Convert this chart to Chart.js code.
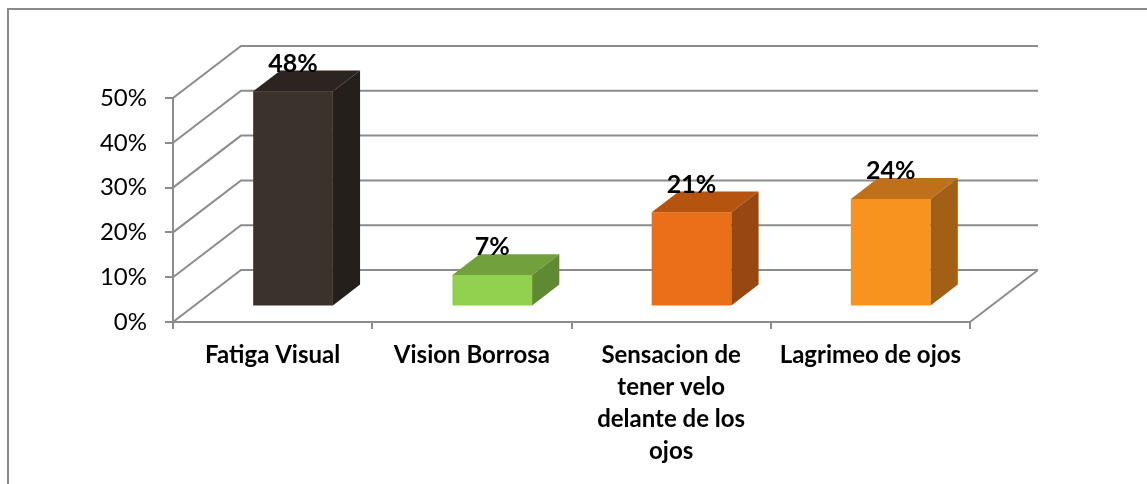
<!DOCTYPE html>
<html><head><meta charset="utf-8">
<script src="https://cdn.jsdelivr.net/npm/chart.js@4.4.1/dist/chart.umd.min.js"></script>
<style>
html,body{margin:0;padding:0;background:#fff;overflow:hidden}
#wrap{position:relative;width:1147px;height:484px;overflow:hidden}
#frame{position:absolute;left:7px;top:8px;width:2000px;height:2000px;border-left:2px solid #8a8a8a;border-top:2px solid #8a8a8a}
canvas{position:absolute;left:0;top:0}
</style></head><body>
<div id="wrap"><div id="frame"></div><canvas id="c" width="1147" height="484"></canvas></div>
<script>
// ---- data ----
const categories = [
  ['Fatiga Visual'],
  ['Vision Borrosa'],
  ['Sensacion de', 'tener velo', 'delante de los', 'ojos'],
  ['Lagrimeo de ojos']
];
const values = [48, 7, 21, 24];
const tickLabels = ['0%', '10%', '20%', '30%', '40%', '50%'];

// ---- styles ----
const frontColors = ['#3b322c', '#92d050', '#eb6f18', '#f7931e'];
const topColors   = ['#2b2420', '#71a03c', '#b4540f', '#c0701a'];
const sideColors  = ['#241f1b', '#5f8a31', '#984710', '#a26016'];
const GRID = '#8c8c8c';
const DX = 68, DY = -52;          // depth of the 3D box
const BAR_FRONT = 0.3, BAR_DEPTH = 0.4;
const FONT = 'Lato, "Open Sans", sans-serif';

function poly(ctx, pts, fill) {
  ctx.beginPath();
  ctx.moveTo(pts[0][0], pts[0][1]);
  for (let i = 1; i < pts.length; i++) ctx.lineTo(pts[i][0], pts[i][1]);
  ctx.closePath();
  ctx.fillStyle = fill;
  ctx.fill();
}

const threeD = {
  id: 'threeD',
  beforeDatasetsDraw(chart) {
    const { ctx, chartArea: a, scales: { y } } = chart;
    ctx.save();
    ctx.strokeStyle = GRID;
    ctx.lineWidth = 2;
    y.ticks.forEach(t => {
      const py = y.getPixelForValue(t.value);
      ctx.beginPath();
      ctx.moveTo(a.left, py);
      ctx.lineTo(a.left + DX, py + DY);
      ctx.lineTo(a.right + DX, py + DY);
      ctx.stroke();
    });
    ctx.beginPath();
    ctx.moveTo(a.right, a.bottom);
    ctx.lineTo(a.right + DX, a.bottom + DY);
    ctx.stroke();
    ctx.restore();
    ctx.save();
    ctx.translate(DX * BAR_FRONT, DY * BAR_FRONT);
  },
  afterDatasetsDraw(chart) {
    const ctx = chart.ctx;
    const meta = chart.getDatasetMeta(0);
    const dx = DX * BAR_DEPTH, dy = DY * BAR_DEPTH;
    meta.data.forEach((bar, i) => {
      const { x, y, base, width } = bar.getProps(['x', 'y', 'base', 'width'], true);
      const l = x - width / 2, r = x + width / 2;
      poly(ctx, [[l, y], [l + dx, y + dy], [r + dx, y + dy], [r, y]], topColors[i]);
      poly(ctx, [[r, y], [r + dx, y + dy], [r + dx, base + dy], [r, base]], sideColors[i]);
    });
    ctx.restore();
    ctx.save();
    ctx.font = 'bold 25px ' + FONT;
    ctx.fillStyle = '#000';
    ctx.textAlign = 'center';
    ctx.textBaseline = 'alphabetic';
    meta.data.forEach((bar, i) => {
      const { x, y } = bar.getProps(['x', 'y'], true);
      ctx.fillText(values[i] + '%', x + DX * BAR_FRONT, y + DY * BAR_FRONT + dy + 1);
    });
    ctx.restore();
  }
};

new Chart(document.getElementById('c'), {
  type: 'bar',
  data: {
    labels: categories,
    datasets: [{
      data: values,
      backgroundColor: frontColors,
      borderWidth: 0,
      categoryPercentage: 1,
      barPercentage: 0.4,
      clip: false
    }]
  },
  options: {
    responsive: false,
    animation: false,
    layout: { padding: { left: 0, right: 177, top: 98, bottom: 0 } },
    plugins: { legend: { display: false }, tooltip: { enabled: false } },
    scales: {
      x: {
        grid: { offset: true, drawOnChartArea: false, drawTicks: true, tickLength: 7, color: GRID, lineWidth: 2 },
        border: { display: true, color: GRID, width: 2 },
        ticks: {
          autoSkip: false, maxRotation: 0, minRotation: 0, padding: 10,
          color: '#000',
          font: { family: FONT, size: 24, weight: 'bold', lineHeight: '32px' }
        },
        afterFit(s) { s.height = 162; }
      },
      y: {
        min: 0, max: 50,
        grid: { drawOnChartArea: false, drawTicks: true, tickLength: 8, color: GRID, lineWidth: 2 },
        border: { display: true, color: GRID, width: 2 },
        ticks: {
          stepSize: 10, padding: 18, color: '#000',
          font: { family: FONT, size: 24 },
          callback: (v) => tickLabels[Math.round(v / 10)]
        },
        afterFit(s) { s.width = 173; }
      }
    }
  },
  plugins: [threeD]
});
</script>
</body></html>
